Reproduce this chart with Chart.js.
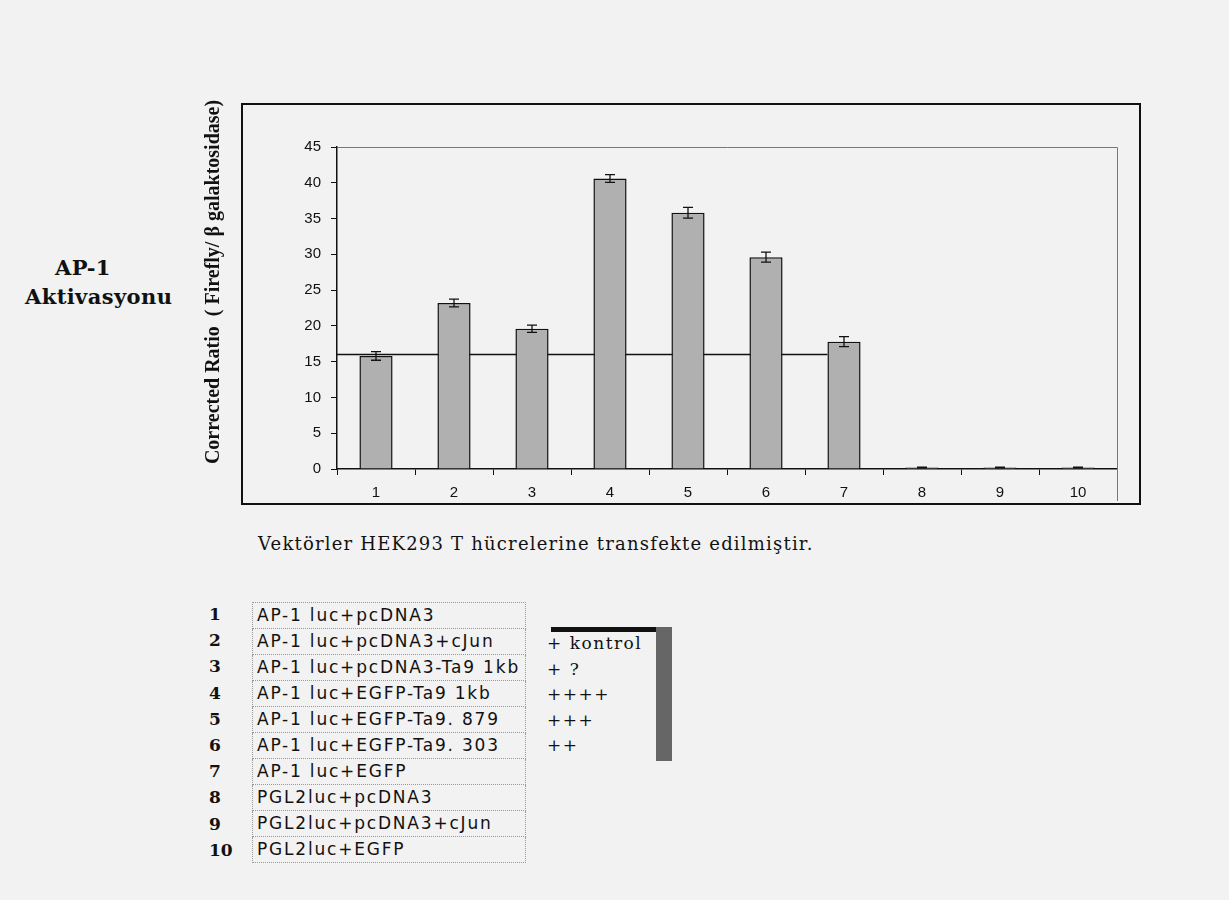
<!DOCTYPE html>
<html>
<head>
<meta charset="utf-8">
<script src="https://cdn.jsdelivr.net/npm/chart.js@4.4.1/dist/chart.umd.min.js"></script>
<style>
  body { margin:0; width:1229px; height:900px; background:#f2f2f2; position:relative; overflow:hidden; font-family:"DejaVu Serif", serif; }
  #box { position:absolute; left:241px; top:103px; width:896px; height:398px; border:2px solid #111; }
  #wrap { position:absolute; left:195px; top:95px; width:955px; height:420px; }
  .side { position:absolute; font-weight:bold; font-size:21px; color:#111; letter-spacing:0.4px; }
  #caption { position:absolute; left:258px; top:533px; font-size:18px; letter-spacing:1.2px; color:#111; }
  #legend { position:absolute; left:252px; top:602px; border-collapse:collapse; font-family:"DejaVu Sans", sans-serif; font-size:17px; letter-spacing:1.8px; }
  #legend td { border:1px dotted #999; height:25px; padding:0 0 0 4px; width:268px; color:#111; line-height:25px; white-space:nowrap; }
  .num { position:absolute; left:209px; font-weight:bold; font-size:17px; color:#111; }
  .plus { position:absolute; left:547px; font-size:17px; letter-spacing:1.5px; color:#111; }
</style>
</head>
<body>
<div id="box"></div>
<div id="wrap"><canvas id="chart" width="955" height="420"></canvas></div>
<div class="side" style="left:55px;top:255px;">AP-1</div>
<div class="side" style="left:25px;top:284px;">Aktivasyonu</div>
<div id="caption">Vektörler HEK293 T hücrelerine transfekte edilmiştir.</div>
<table id="legend"></table>
<div id="nums"></div>
<div class="plus" style="top:633px;">+ kontrol</div>
<div class="plus" style="top:659px;">+ ?</div>
<div class="plus" style="top:684px;">++++</div>
<div class="plus" style="top:710px;">+++</div>
<div class="plus" style="top:735px;">++</div>
<div style="position:absolute;left:551px;top:627px;width:121px;height:5px;background:#111;"></div>
<div style="position:absolute;left:656px;top:627px;width:16px;height:134px;background:#666;"></div>
<script>
const categories = ['1','2','3','4','5','6','7','8','9','10'];
const ratios = [15.8, 23.2, 19.6, 40.6, 35.8, 29.6, 17.8, 0.2, 0.2, 0.2];
const errors = [0.6, 0.55, 0.5, 0.55, 0.75, 0.7, 0.7, 0.05, 0.05, 0.05];
const baselineValue = 16;
const baselineUntil = 6; // line stops at bar 7
const yTicks = [0, 5, 10, 15, 20, 25, 30, 35, 40, 45];
const yTitle = 'Corrected Ratio  ( Firefly/ β galaktosidase)';
const vectors = ['AP-1 luc+pcDNA3', 'AP-1 luc+pcDNA3+cJun', 'AP-1 luc+pcDNA3-Ta9 1kb', 'AP-1 luc+EGFP-Ta9 1kb',
  'AP-1 luc+EGFP-Ta9. 879', 'AP-1 luc+EGFP-Ta9. 303', 'AP-1 luc+EGFP', 'PGL2luc+pcDNA3', 'PGL2luc+pcDNA3+cJun', 'PGL2luc+EGFP'];

// legend table below the chart
const table = document.getElementById('legend');
const nums = document.getElementById('nums');
vectors.forEach((v, i) => {
  const tr = document.createElement('tr');
  const td = document.createElement('td');
  td.textContent = v;
  tr.appendChild(td);
  table.appendChild(tr);
  const n = document.createElement('div');
  n.className = 'num';
  n.style.top = (604 + i * 26.2) + 'px';
  n.textContent = categories[i];
  nums.appendChild(n);
});

const extras = {
  id: 'extras',
  beforeDatasetsDraw: (chart) => {
    const ctx = chart.ctx, a = chart.chartArea;
    const y = chart.scales.y;
    ctx.save();
    // thin frame on top / right of plot area
    ctx.strokeStyle = '#777';
    ctx.lineWidth = 1;
    ctx.beginPath();
    ctx.moveTo(a.left, a.top + 0.5);
    ctx.lineTo(a.right + 0.5, a.top + 0.5);
    ctx.lineTo(a.right + 0.5, a.bottom + 32);
    ctx.stroke();
    // control baseline
    const bar = chart.getDatasetMeta(0).data[baselineUntil];
    const yy = y.getPixelForValue(baselineValue);
    ctx.strokeStyle = '#111';
    ctx.lineWidth = 1.5;
    ctx.beginPath();
    ctx.moveTo(a.left, yy);
    ctx.lineTo(bar.x - bar.width / 2, yy);
    ctx.stroke();
    // y axis title, sits a bit above centre like the original
    ctx.translate(a.left - 123, a.top + 135);
    ctx.rotate(-Math.PI / 2);
    ctx.fillStyle = '#111';
    ctx.font = 'bold 20px "Liberation Serif"';
    ctx.textAlign = 'center';
    ctx.textBaseline = 'middle';
    ctx.fillText(yTitle, 0, 0);
    ctx.restore();
  },
  afterDatasetsDraw: (chart) => {
    const ctx = chart.ctx, y = chart.scales.y;
    ctx.save();
    ctx.strokeStyle = '#111';
    ctx.lineWidth = 1.3;
    chart.getDatasetMeta(0).data.forEach((b, i) => {
      const hi = y.getPixelForValue(ratios[i] + errors[i]);
      const lo = y.getPixelForValue(ratios[i] - errors[i]);
      ctx.beginPath();
      ctx.moveTo(b.x, hi); ctx.lineTo(b.x, lo);
      ctx.moveTo(b.x - 5, hi); ctx.lineTo(b.x + 5, hi);
      ctx.moveTo(b.x - 5, lo); ctx.lineTo(b.x + 5, lo);
      ctx.stroke();
    });
    ctx.restore();
  }
};

new Chart(document.getElementById('chart').getContext('2d'), {
  type: 'bar',
  data: {
    labels: categories,
    datasets: [{
      data: ratios,
      backgroundColor: '#b0b0b0',
      borderColor: '#111',
      borderWidth: 1.5,
      barPercentage: 0.85,
      categoryPercentage: 0.5
    }]
  },
  options: {
    responsive: false,
    animation: false,
    layout: { padding: { top: 52, right: 33, bottom: 10, left: 0 } },
    plugins: { legend: { display: false }, tooltip: { enabled: false } },
    scales: {
      x: {
        afterFit: (s) => { s.height = 36; },
        grid: { display: true, drawOnChartArea: false, offset: true, color: '#111', tickLength: 6 },
        border: { color: '#111', width: 1.5 },
        ticks: { color: '#111', font: { family: 'Liberation Sans, Arial', size: 15 }, padding: 9 }
      },
      y: {
        min: 0, max: 45,
        afterFit: (s) => { s.width = 142; },
        afterBuildTicks: (s) => { s.ticks = yTicks.map(v => ({ value: v })); },
        grid: { display: true, drawOnChartArea: false, color: '#111', tickLength: 6 },
        border: { color: '#111', width: 1.5 },
        ticks: { color: '#111', font: { family: 'Liberation Sans, Arial', size: 15 }, padding: 10 }
      }
    }
  },
  plugins: [extras]
});
</script>
</body>
</html>
